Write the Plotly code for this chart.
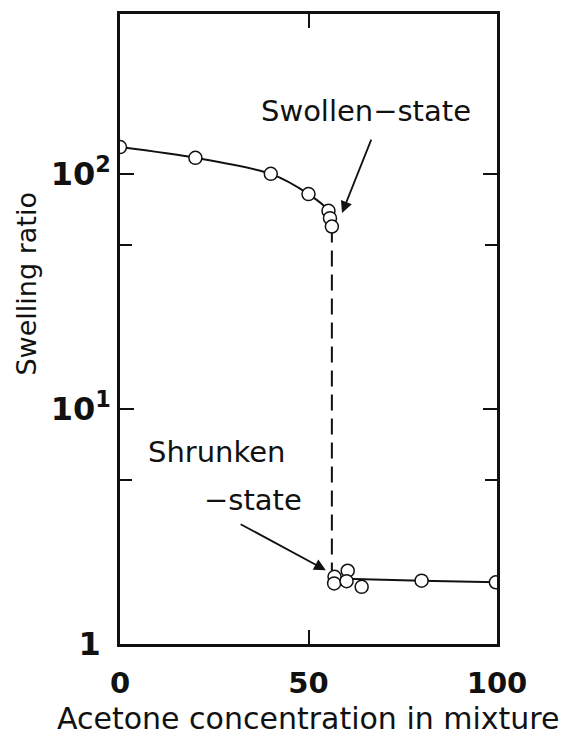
import math
import plotly.graph_objects as go

# Swelling ratio of the gel vs. acetone concentration
swollen_x = [0, 20, 40, 50, 55.3, 55.7, 56.2]
swollen_y = [130, 117, 100, 82, 69.6, 64.8, 59.7]

shrunken_x = [56.9, 56.8, 60.4, 60.1, 64.1, 80, 99.7]
shrunken_y = [1.93, 1.81, 2.05, 1.85, 1.75, 1.86, 1.83]

# hand-drawn guide through the shrunken branch
shrunken_curve_x = [57, 80, 100]
shrunken_curve_y = [1.90, 1.86, 1.83]

# volume-phase transition (dashed jump)
transition_x = 56.2

y_tickvals = [1, 10, 100]
y_ticktext = ["<b>1</b>&nbsp;", "<b>10</b><sup><b>1</b></sup>", "<b>10</b><sup><b>2</b></sup>"]
x_tickvals = [0, 50, 100]
x_ticktext = ["<b>0</b>", "<b>50</b>", "<b>100</b>"]

FONT = "DejaVu Sans"
BLACK = "#111111"

fig = go.Figure()

# smooth curve through the swollen branch
fig.add_trace(go.Scatter(
    x=swollen_x, y=swollen_y, mode="lines",
    line=dict(color=BLACK, width=2, shape="spline", smoothing=0.8),
    hoverinfo="skip", showlegend=False))

# curve along the shrunken branch
fig.add_trace(go.Scatter(
    x=shrunken_curve_x, y=shrunken_curve_y, mode="lines",
    line=dict(color=BLACK, width=2, shape="spline"),
    hoverinfo="skip", showlegend=False))

# discontinuous transition
fig.add_trace(go.Scatter(
    x=[transition_x, transition_x],
    y=[min(swollen_y), max(shrunken_y)],
    mode="lines",
    line=dict(color=BLACK, width=2, dash="16px,8px"),
    hoverinfo="skip", showlegend=False))

marker = dict(symbol="circle", size=13, color="white",
              line=dict(color=BLACK, width=1.5))
fig.add_trace(go.Scatter(x=swollen_x, y=swollen_y, mode="markers",
                         marker=marker, showlegend=False))
fig.add_trace(go.Scatter(x=shrunken_x, y=shrunken_y, mode="markers",
                         marker=marker, showlegend=False))

txt = dict(family=FONT, size=29, color=BLACK)
annotations = [
    dict(x=65.3, y=math.log10(185), text="Swollen\u2212state", showarrow=False,
         font=txt, xanchor="center", yanchor="middle"),
    dict(x=25.6, y=math.log10(6.56), text="Shrunken", showarrow=False,
         font=txt, xanchor="center", yanchor="middle"),
    dict(x=35.4, y=math.log10(4.1), text="\u2212state", showarrow=False,
         font=txt, xanchor="center", yanchor="middle"),
    # axis titles
    dict(x=0.5, y=-0.1185, xref="paper", yref="paper",
         text="Acetone concentration in mixture", showarrow=False,
         font=dict(family=FONT, size=30, color=BLACK),
         xanchor="center", yanchor="middle"),
    dict(x=-0.247, y=0.572, xref="paper", yref="paper",
         text="Swelling ratio", showarrow=False, textangle=-90,
         font=dict(family=FONT, size=27, color=BLACK),
         xanchor="center", yanchor="middle"),
    # arrows
    dict(x=58.9, y=math.log10(68.2), ax=66.8, ay=math.log10(142),
         axref="x", ayref="y", xref="x", yref="y", text="", showarrow=True,
         arrowhead=2, arrowsize=1.3, arrowwidth=1.8, arrowcolor=BLACK),
    dict(x=54.6, y=math.log10(2.06), ax=31.6, ay=math.log10(3.26),
         axref="x", ayref="y", xref="x", yref="y", text="", showarrow=True,
         arrowhead=2, arrowsize=1.3, arrowwidth=1.8, arrowcolor=BLACK),
]

fig.update_layout(
    width=570, height=736,
    margin=dict(l=120, r=73, t=14, b=92),
    paper_bgcolor="white", plot_bgcolor="white",
    font=dict(family=FONT, color=BLACK),
    annotations=annotations,
    showlegend=False,
)

fig.update_xaxes(
    range=[0, 100], tickvals=x_tickvals, ticktext=x_ticktext,
    ticks="inside", ticklen=14, tickwidth=2, tickcolor=BLACK,
    ticklabelstandoff=11,
    showline=True, linewidth=2.5, linecolor=BLACK, mirror="ticks",
    showgrid=False, zeroline=False,
    tickfont=dict(family=FONT, size=29, color=BLACK),
)
fig.update_yaxes(
    type="log", range=[0, 2.68], tickvals=y_tickvals, ticktext=y_ticktext,
    ticks="inside", ticklen=14, tickwidth=2, tickcolor=BLACK,
    minor=dict(tickvals=[5, 50], ticks="inside", ticklen=12, tickwidth=2,
               tickcolor=BLACK, showgrid=False),
    showline=True, linewidth=2.5, linecolor=BLACK, mirror="ticks",
    showgrid=False, zeroline=False,
    tickfont=dict(family=FONT, size=32, color=BLACK),
)

fig.write_html("out.html")
